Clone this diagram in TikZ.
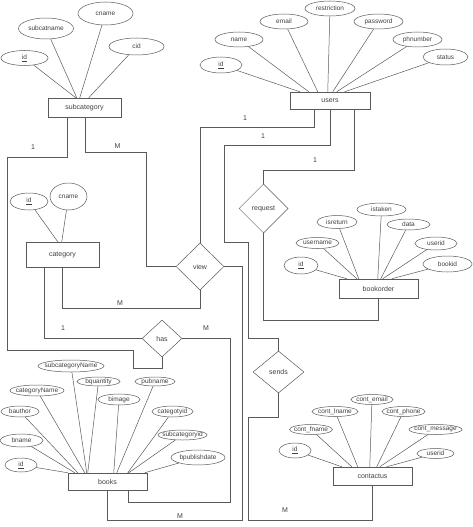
\documentclass[tikz,border=0pt]{standalone}
\usepackage{fontspec}
\setmainfont{Liberation Sans}
\usetikzlibrary{shapes.geometric}
\begin{document}
\begin{tikzpicture}[x=1pt, y=-1pt, line width=0.5pt, color=black!65,
	every node/.style={font=\fontsize{7}{8}\selectfont, text=black!75},
	entity/.style 2 args={draw, rectangle, minimum width=#1, minimum height=#2, inner sep=0pt},
	attr/.style 2 args={draw, ellipse, minimum width=#1, minimum height=#2, inner sep=0pt,
		font=\fontsize{6.5}{7}\selectfont,
		execute at begin node={\hbox to 0pt\bgroup\hss}, execute at end node={\hss\egroup}},
	rel/.style 2 args={draw, diamond, minimum width=#1, minimum height=#2, inner sep=0pt}]
	\useasboundingbox (0,0) rectangle (473,527);
	% subcategory
	\node[entity={73}{19}] (subcat) at (84.5,107.5) {subcategory};
	\node[attr={47}{15}] (sc-id) at (24.5,58) {\underline{id}};
	\node[attr={55}{21}] (sc-name) at (46,28.5) {subcatname};
	\node[attr={55}{23}] (sc-cname) at (105.5,13.5) {cname};
	\node[attr={55}{17}] (sc-cid) at (136.5,46.5) {cid};
	\draw (sc-id) -- ([xshift=28pt]subcat.north west) (sc-name) -- ([xshift=29pt]subcat.north west)
		(sc-cname) -- ([xshift=32pt]subcat.north west) (sc-cid) -- ([xshift=41pt]subcat.north west);
	% users
	\node[entity={80}{17}] (users) at (330,100.5) {users};
	\node[attr={42}{16}] (u-id) at (221,65) {\underline{id}};
	\node[attr={48}{15}] (u-name) at (239,39.5) {name};
	\node[attr={48}{15}] (u-email) at (284,21.5) {email};
	\node[attr={50}{15}] (u-restr) at (330,8.5) {restriction};
	\node[attr={49}{15}] (u-pass) at (378.5,21.5) {password};
	\node[attr={49}{15}] (u-phone) at (417.5,39.5) {phnumber};
	\node[attr={45}{16}] (u-status) at (445.5,57) {status};
	\draw (u-id) -- ([xshift=10pt]users.north west) (u-name) -- ([xshift=19pt]users.north west)
		(u-email) -- ([xshift=28pt]users.north west) (u-restr) -- ([xshift=38pt]users.north west)
		(u-pass) -- ([xshift=43pt]users.north west) (u-phone) -- ([xshift=47pt]users.north west)
		(u-status) -- ([xshift=55pt]users.north west);
	% category
	\node[entity={73}{25}] (cat) at (62.5,254.5) {category};
	\node[attr={38}{17}] (c-id) at (29,201.5) {\underline{id}};
	\node[attr={37}{27}] (c-cname) at (68.5,196.5) {cname};
	\draw (c-id) -- ([xshift=32pt]cat.north west) (c-cname) -- ([xshift=36pt]cat.north west);
	% bookorder
	\node[entity={79}{19}] (bookorder) at (378.5,288.5) {bookorder};
	\node[attr={34}{17}] (bo-id) at (301,265.5) {\underline{id}};
	\node[attr={43}{11}] (bo-uname) at (317.5,243) {username};
	\node[attr={40}{13}] (bo-isret) at (337,222) {isreturn};
	\node[attr={49}{13}] (bo-istaken) at (381.5,209.5) {istaken};
	\node[attr={43}{11}] (bo-data) at (408.5,224.5) {data};
	\node[attr={42}{13}] (bo-userid) at (436,243.5) {userid};
	\node[attr={49}{16}] (bo-bookid) at (447.5,264) {bookid};
	\draw (bo-id) -- ([xshift=8pt]bookorder.north west) (bo-uname) -- ([xshift=18pt]bookorder.north west)
		(bo-isret) -- ([xshift=20pt]bookorder.north west) (bo-istaken) -- ([xshift=39pt]bookorder.north west)
		(bo-data) -- ([xshift=42pt]bookorder.north west) (bo-userid) -- ([xshift=44pt]bookorder.north west)
		(bo-bookid) -- ([xshift=53pt]bookorder.north west);
	% books
	\node[entity={79}{17}] (books) at (107.5,481.5) {books};
	\node[attr={32}{14}] (b-id) at (21,465) {\underline{id}};
	\node[attr={43}{13}] (b-name) at (21.5,440.5) {bname};
	\node[attr={38}{11}] (b-author) at (20,411.5) {bauthor};
	\node[attr={54}{11}] (b-catname) at (37,390.5) {categoryName};
	\node[attr={66}{12}] (b-subcatname) at (71,366) {subcategoryName};
	\node[attr={43}{9}] (b-qty) at (98.5,381.5) {bquantity};
	\node[attr={42}{11}] (b-image) at (119,399.5) {bimage};
	\node[attr={40}{9}] (b-pub) at (155,381.5) {pubname};
	\node[attr={41}{11}] (b-catid) at (172.5,411.5) {categotyid};
	\node[attr={49}{10}] (b-subcatid) at (182.5,435) {subcategoryid};
	\node[attr={54}{15}] (b-pubdate) at (198,457.5) {bpublishdate};
	\draw (b-id) -- ([xshift=0pt]books.north west) (b-name) -- ([xshift=7pt]books.north west)
		(b-author) -- ([xshift=10pt]books.north west) (b-catname) -- ([xshift=17pt]books.north west)
		(b-subcatname) -- ([xshift=19pt]books.north west) (b-qty) -- ([xshift=20pt]books.north west)
		(b-image) -- ([xshift=46pt]books.north west) (b-pub) -- ([xshift=49pt]books.north west)
		(b-catid) -- ([xshift=60pt]books.north west) (b-subcatid) -- ([xshift=61pt]books.north west)
		(b-pubdate) -- ([xshift=77pt]books.north west);
	% contactus
	\node[entity={79}{18}] (contactus) at (372.5,476) {contactus};
	\node[attr={32}{15}] (ct-id) at (295,450.5) {\underline{id}};
	\node[attr={43}{10}] (ct-fname) at (311,429.5) {cont\_fname};
	\node[attr={46}{10}] (ct-lname) at (335,411.5) {cont\_lname};
	\node[attr={42}{10}] (ct-email) at (372,399.5) {cont\_email};
	\node[attr={43}{10}] (ct-phone) at (403.5,411.5) {cont\_phone};
	\node[attr={53}{10}] (ct-msg) at (435.5,429.5) {cont\_message};
	\node[attr={37}{10}] (ct-userid) at (435.5,453.5) {userid};
	\draw (ct-id) -- ([xshift=9pt]contactus.north west) (ct-fname) -- ([xshift=19pt]contactus.north west)
		(ct-lname) -- ([xshift=25pt]contactus.north west) (ct-email) -- ([xshift=37pt]contactus.north west)
		(ct-phone) -- ([xshift=44pt]contactus.north west) (ct-msg) -- ([xshift=47pt]contactus.north west)
		(ct-userid) -- ([xshift=54pt]contactus.north west);
	% relations
	\node[rel={48}{47}] (view) at (200,266.5) {view};
	\node[rel={40}{37}] (has) at (162,338.5) {has};
	\node[rel={49}{49}] (request) at (263.5,208.5) {request};
	\node[rel={51}{42}] (sends) at (278.5,372) {sends};
	% connectors
	\draw ([xshift=19pt]subcat.south west) -- ++(0,40) -| (7,350) -- ++(126,0) -- ++(0,18) -| (has.south);
	\draw ([xshift=37pt]subcat.south west) -- ++(0,35) -| (146,266.5) -- (view.west);
	\draw ([xshift=36pt]cat.south west) -- ++(0,41) -| (view.south);
	\draw ([xshift=18pt]cat.south west) |- (has.west);
	\draw (has.east) -| (230,502) -| ([xshift=20.5pt]books.south);
	\draw (books.south) -- ++(0,30) -| (242,266.5) -- (view.east);
	\draw ([xshift=24pt]users.south west) -- ++(0,18) -| (view.north);
	\draw (users.south) -- ++(0,36) -| (224,242) -| (248,338) -| (sends.north);
	\draw ([xshift=64pt]users.south west) -- ++(0,61) -| (request.north);
	\draw (request.south) -- ++(0,87) -| (bookorder.south);
	\draw (sends.south) -- ++(0,24) -| (248,520) -| (contactus.south);
	% cardinalities
	\node (card-sc-has) at (33,147) {1};
	\node (card-sc-view) at (117.5,146) {M};
	\node (card-cat-view) at (120,303) {M};
	\node (card-cat-has) at (63,328) {1};
	\node (card-has-books) at (206,328.5) {M};
	\node (card-books-view) at (180,516.5) {M};
	\node (card-u-view) at (245,118) {1};
	\node (card-u-sends) at (263,136) {1};
	\node (card-u-req) at (315,160) {1};
	\node (card-sends-ct) at (285,510) {M};
\end{tikzpicture}
\end{document}
